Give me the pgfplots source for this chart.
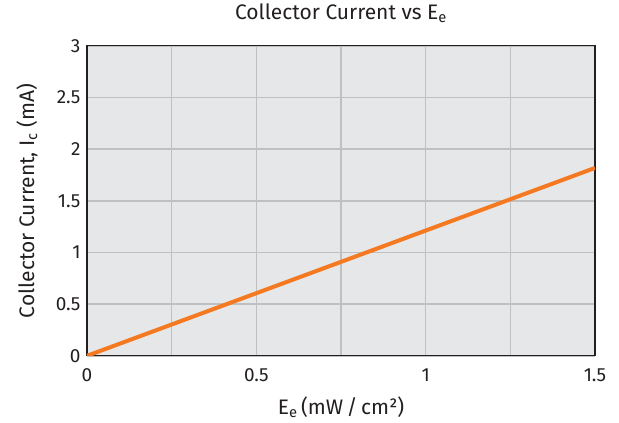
\documentclass[border=0pt]{standalone}
\usepackage{fontspec}
\setmainfont{Fira Sans}
\usepackage{pgfplots}
\pgfplotsset{compat=1.18}
\definecolor{bg}{HTML}{E6E7E8}
\definecolor{gridc}{HTML}{BFC0C2}
\definecolor{ink}{HTML}{231F20}
\definecolor{lineorange}{HTML}{F47920}
\begin{document}
\begin{tikzpicture}
\begin{axis}[name=ax,
  scale only axis, width=508bp, height=310bp,
  xmin=0, xmax=1.5, ymin=0, ymax=3,
  xtick={0,0.25,0.5,0.75,1,1.25,1.5},
  xticklabels={0,,0.5,,1,,1.5},
  ytick={0,0.5,1,1.5,2,2.5,3},
  yticklabels={0,0.5,1,1.5,2,2.5,3},
  major tick length=0pt,
  xmajorgrids, ymajorgrids,
  major grid style={gridc, line width=1.5bp},
  axis background/.style={fill=bg},
  axis line style={ink, line width=1.2bp},
  tick label style={ink, font=\fontsize{19bp}{22bp}\selectfont},
  xticklabel style={yshift=-9bp},
  yticklabel style={xshift=-3bp},
  title={Collector Current vs E\textsubscript{e}},
  title style={at={(0.5,1)}, anchor=center, yshift=27bp, ink, font=\fontsize{21bp}{24bp}\selectfont},
  xlabel={E\textsubscript{e}\,(mW\,/\,cm²)},
  xlabel style={at={(0.5,0)}, anchor=center, yshift=-51bp, ink, font=\fontsize{21bp}{24bp}\selectfont},
  ylabel={Collector Current, I\textsubscript{c} (mA)},
  every axis y label/.style={at={(0,0.5)}, rotate=90, anchor=center, yshift=60bp, ink, font=\fontsize{21bp}{24bp}\selectfont},
]
\addplot[lineorange, line width=4bp] coordinates {
  (0, 0)
  (0.25, 0.303)
  (0.5, 0.606)
  (0.75, 0.909)
  (1, 1.212)
  (1.25, 1.515)
  (1.5, 1.818)
};
\end{axis}
\path[use as bounding box] ([shift={(-87bp,-67bp)}]ax.south west) rectangle ([shift={(24bp,43bp)}]ax.north east);
\end{tikzpicture}
\end{document}
